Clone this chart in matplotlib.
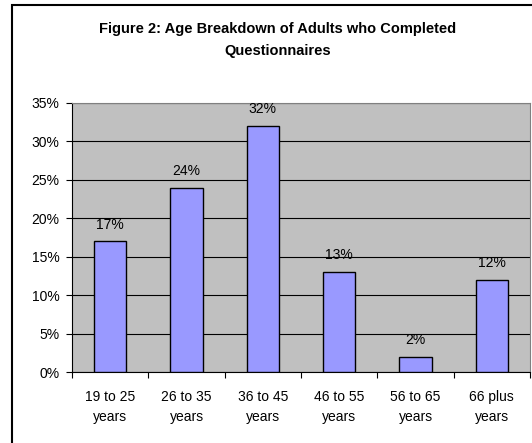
import matplotlib.pyplot as plt
from matplotlib.patches import Rectangle
from matplotlib.ticker import FuncFormatter

categories = ['19 to 25\nyears', '26 to 35\nyears', '36 to 45\nyears',
              '46 to 55\nyears', '56 to 65\nyears', '66 plus\nyears']
values = [17, 24, 32, 13, 2, 12]
labels = ['17%', '24%', '32%', '13%', '2%', '12%']

plt.rcParams['font.family'] = ['Liberation Sans', 'DejaVu Sans']

fig = plt.figure(figsize=(5.32, 4.43), dpi=100)
fig.patch.set_facecolor('white')

# outer chart frame (runs off right and bottom edges)
fig.patches.append(Rectangle((12 / 532, -0.05), 1.0, 1 - 5 / 443 + 0.05,
                             transform=fig.transFigure, fill=False,
                             edgecolor='black', linewidth=1.5))

ax = fig.add_axes([72 / 532, 1 - 372 / 443, (530 - 72) / 532, (372 - 103) / 443])
ax.set_facecolor('#C0C0C0')

x = list(range(len(categories)))
bars = ax.bar(x, values, width=0.42, color='#9999FF', edgecolor='black',
              linewidth=1.0, zorder=3)

for b, lab in zip(bars, labels):
    ax.annotate(lab, (b.get_x() + b.get_width() / 2, b.get_height()),
                xytext=(0, 7), textcoords='offset points',
                ha='center', va='bottom', fontsize=10, zorder=4)

ax.set_xlim(-0.5, len(categories) - 0.5)
ax.set_ylim(0, 35)
ax.set_yticks(range(0, 36, 5))
ax.yaxis.set_major_formatter(FuncFormatter(lambda v, p: f'{v:.0f}%'))
ax.grid(axis='y', color='black', linewidth=0.8, zorder=1)

# ticks between categories, labels centred under bars
ax.set_xticks([i - 0.5 for i in range(len(categories) + 1)], minor=False)
ax.set_xticklabels([''] * (len(categories) + 1))
ax.set_xticks(x, minor=True)
ax.set_xticklabels(categories, minor=True, fontsize=10, linespacing=1.55)
ax.tick_params(axis='x', which='minor', length=0, pad=13)
ax.tick_params(axis='x', which='major', length=4, direction='out', width=0.8)
ax.tick_params(axis='y', length=4, direction='out', width=0.8, labelsize=10, pad=5)

for side in ['top', 'right']:
    ax.spines[side].set_color('#808080')
    ax.spines[side].set_linewidth(0.8)
ax.spines['left'].set_color('black')
ax.spines['bottom'].set_color('black')
ax.spines['left'].set_linewidth(0.8)
ax.spines['bottom'].set_linewidth(0.8)

fig.text(278 / 532, 1 - 40 / 443,
         'Figure 2: Age Breakdown of Adults who Completed\nQuestionnaires',
         ha='center', va='center', fontsize=10.5, fontweight='bold', linespacing=1.65)

fig.savefig('out.png', dpi=100)
